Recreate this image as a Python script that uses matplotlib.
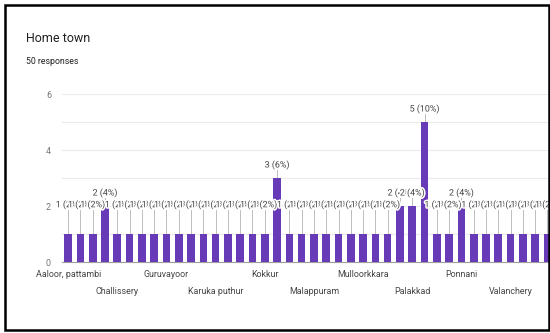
import matplotlib.pyplot as plt
import matplotlib.patheffects as pe
from matplotlib.patches import Rectangle

plt.rcParams['font.family'] = ['Roboto', 'DejaVu Sans']

# responses per home town (alphabetical order, 50 responses total)
counts = [1, 1, 1, 2, 1, 1, 1, 1, 1, 1,
          1, 1, 1, 1, 1, 1, 1, 3, 1, 1,
          1, 1, 1, 1, 1, 1, 1, 2, 2, 5,
          1, 1, 2, 1, 1, 1, 1, 1, 1, 1]
total = 50
# only every fourth town name gets a tick label
tick_pos = [0, 4, 8, 12, 16, 20, 24, 28, 32, 36]
tick_names = ['Aaloor, pattambi', 'Challissery', 'Guruvayoor', 'Karuka puthur',
              'Kokkur', 'Malappuram', 'Mulloorkkara', 'Palakkad', 'Ponnani',
              'Valanchery']

purple = '#673ab7'
grey = '#757575'

fig = plt.figure(figsize=(5.5, 3.33), dpi=100)
ax = fig.add_axes([62 / 550, 71 / 333, 491.6 / 550, 168 / 333])

x = list(range(len(counts)))
ax.bar(x, counts, width=0.62, color=purple, zorder=3)

ax.set_xlim(-0.5, len(counts) - 0.5)
ax.set_ylim(0, 6)
ax.set_yticks([0, 2, 4, 6])
ax.set_yticks([1, 3, 5], minor=True)
ax.grid(axis='y', which='both', color='#ebebeb', lw=0.8, zorder=0)
ax.tick_params(axis='y', which='both', length=0, labelsize=6.4,
               labelcolor=grey, pad=8)
for s in ['top', 'right', 'left']:
    ax.spines[s].set_visible(False)
ax.spines['bottom'].set_color('#9e9e9e')
ax.spines['bottom'].set_linewidth(0.8)

ax.set_xticks(tick_pos)
ax.set_xticklabels(tick_names)
ax.tick_params(axis='x', length=0, labelsize=6.4, labelcolor='#444444', pad=6)
for i, lab in enumerate(ax.get_xticklabels()):
    if i % 2:
        lab.set_y(-0.1)

# value labels with leader lines
halo = [pe.withStroke(linewidth=2.2, foreground='white')]
for xi, v in zip(x, counts):
    ly = v + 0.47 if v > 1 else 2.05
    ax.plot([xi, xi], [v, ly - 0.2], color='#bdbdbd', lw=0.7, zorder=2)
    ax.text(xi, ly, f'{v} ({v / total * 100:.0f}%)', ha='center', va='center',
            fontsize=6.4, color='#444444', zorder=4, path_effects=halo)

fig.text(26 / 550, 1 - 39 / 333, 'Home town', fontsize=9, color='#202124',
         va='center', ha='left')
fig.text(26 / 550, 1 - 61 / 333, '50 responses', fontsize=6.3, color='#202124',
         va='center', ha='left')

fig.patches.append(Rectangle((4.5 / 550, 3.5 / 333), 544 / 550, 325 / 333,
                             transform=fig.transFigure, fill=False,
                             ec='black', lw=1.8, zorder=10))

fig.savefig('out.png', dpi=100)
